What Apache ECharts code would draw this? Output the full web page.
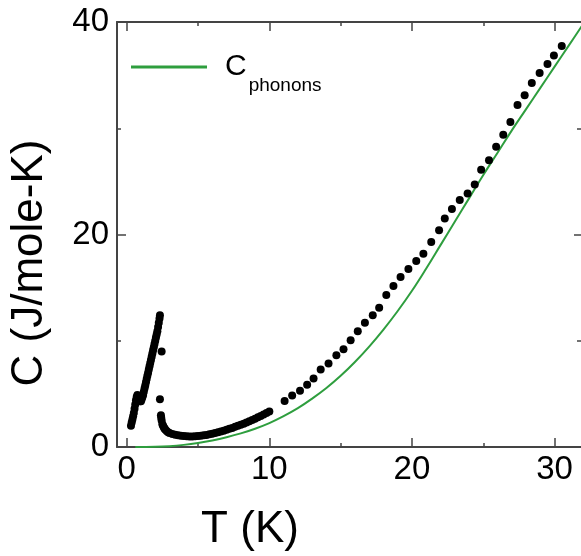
<!DOCTYPE html>
<html><head><meta charset="utf-8">
<script src="https://cdn.jsdelivr.net/npm/echarts@6/dist/echarts.min.js"></script>
<style>html,body{margin:0;padding:0;background:#fff}#c{width:581px;height:556px}</style>
</head><body><div id="c"></div>
<script>
// Measured heat capacity (black dots)
const measT = [
  0.30,0.35,0.40,0.45,0.50,0.55,0.60,0.65,0.70,0.75,0.80,0.85,0.90,0.95,1.00,1.05,1.10,1.15,1.20,1.25,
  1.30,1.35,1.40,1.45,1.50,1.55,1.60,1.65,1.70,1.75,1.80,1.85,1.90,1.95,2.00,2.05,2.10,2.15,2.20,2.25,
  2.30,2.33,2.45,2.33,
  2.40,2.42,2.45,2.50,2.55,2.60,2.65,2.70,2.80,2.90,3.00,3.20,3.40,3.60,3.80,4.00,4.20,4.40,4.60,4.80,
  5.00,5.20,5.40,5.60,5.80,6.00,6.20,6.40,6.60,6.80,7.00,7.20,7.40,7.60,7.80,8.00,8.20,8.40,8.60,8.80,
  9.00,9.20,9.40,9.60,9.80,10.00,
  11.07,11.60,12.15,12.65,13.10,13.60,14.15,14.70,15.20,15.70,16.20,16.70,17.25,17.70,18.20,18.70,19.20,19.75,
  20.30,20.80,21.35,21.90,22.30,22.80,23.35,23.90,24.40,24.85,25.40,25.90,26.40,26.90,27.40,27.90,28.40,28.95,
  29.50,29.95,30.50
];
const measC = [
  2.0,2.3,2.6,2.9,3.2,3.6,4.0,4.4,4.7,4.9,4.8,4.6,4.4,4.3,4.3,4.5,4.7,4.9,5.2,5.5,
  5.8,6.1,6.4,6.7,7.0,7.3,7.6,7.9,8.2,8.5,8.8,9.1,9.4,9.7,10.0,10.3,10.6,10.9,11.3,11.7,
  12.1,12.4,9.0,4.5,
  3.0,2.75,2.5,2.15,2.0,1.85,1.75,1.65,1.5,1.4,1.32,1.22,1.15,1.10,1.06,1.03,1.01,1.0,1.0,1.01,
  1.03,1.06,1.10,1.14,1.19,1.25,1.31,1.38,1.45,1.53,1.62,1.71,1.80,1.90,2.0,2.10,2.20,2.31,2.42,2.54,
  2.66,2.79,2.92,3.06,3.20,3.35,
  4.34,4.85,5.30,5.85,6.45,7.30,7.86,8.64,9.20,10.05,10.9,11.7,12.4,13.1,14.3,15.15,16.0,16.75,
  17.5,18.2,19.3,20.4,21.5,22.4,23.25,23.85,24.7,26.1,27.0,28.25,29.4,30.6,32.2,33.1,34.25,35.2,
  36.05,36.85,37.75
];
// Phonon contribution (green line)
const phononT = [0.6,1,2,3,4,5,6,7,8,9,10,11,12,13,14,15,16,17,18,19,20,21,22,23,24,25,26,27,28,29,30,31,32];
const phononC = [0,0.005,0.02,0.08,0.2,0.38,0.62,0.92,1.28,1.72,2.25,2.9,3.65,4.55,5.55,6.7,8.0,9.45,11.05,12.8,14.7,16.8,19.0,21.2,23.4,25.6,27.7,29.8,31.8,33.8,35.8,37.8,39.8];

const xTicks = [0,10,20,30];
const xMinorTicks = [5,15,25];
const yTicks = [0,20,40];
const yMinorTicks = [10,30];
const xRange = [-0.68, 31.85];
const yRange = [0, 40];

const FONT = '"Liberation Sans", Arial, sans-serif';
const axisColor = '#444';

function xAxisDef(pos, vals, len, showLine, showLabel) {
  return {
    type:'value', position:pos, min:xRange[0], max:xRange[1], gridIndex:0,
    axisLine:{show:showLine, onZero:false, lineStyle:{color:axisColor, width:2}},
    axisTick:{show:true, inside:true, length:len, customValues:vals, lineStyle:{color:axisColor, width:1.5}},
    axisLabel:{show:showLabel, customValues:vals, fontSize:33, fontFamily:FONT, color:'#000', margin:6},
    splitLine:{show:false}
  };
}
function yAxisDef(pos, vals, len, showLine, showLabel) {
  return {
    type:'value', position:pos, min:yRange[0], max:yRange[1], gridIndex:0,
    axisLine:{show:showLine, onZero:false, lineStyle:{color:axisColor, width:2}},
    axisTick:{show:true, inside:true, length:len, customValues:vals, lineStyle:{color:axisColor, width:1.5}},
    axisLabel:{show:showLabel, customValues:vals, fontSize:33, fontFamily:FONT, color:'#000', margin:8},
    splitLine:{show:false}
  };
}

const chart = echarts.init(document.getElementById('c'), null, {renderer:'canvas'});
chart.setOption({
  animation:false,
  backgroundColor:'#fff',
  grid:{left:117, top:22, width:465, height:425, containLabel:false},
  xAxis:[
    xAxisDef('bottom', xTicks, 9, true, true),
    xAxisDef('bottom', xMinorTicks, 4, false, false),
    xAxisDef('top', xTicks, 9, true, false),
    xAxisDef('top', xMinorTicks, 4, false, false)
  ],
  yAxis:[
    yAxisDef('left', yTicks, 9, true, true),
    yAxisDef('left', yMinorTicks, 4, false, false),
    yAxisDef('right', yTicks, 7, false, false),
    yAxisDef('right', yMinorTicks, 4, false, false)
  ],
  legend:{
    left:126, top:29, itemWidth:76, itemHeight:3, icon:'rect', itemGap:0,
    data:['C_phonons'],
    formatter:function(){ return '{c|C}{s|phonons}'; },
    textStyle:{
      rich:{
        c:{fontSize:30, fontFamily:FONT, color:'#000', lineHeight:30, padding:[18,0,18,13]},
        s:{fontSize:19, fontFamily:FONT, color:'#000', lineHeight:19, padding:[42,0,5,2]}
      }
    }
  },
  graphic:[
    {type:'text', x:250, y:530, style:{text:'T (K)', fontSize:44, fontFamily:FONT, fill:'#000', align:'center', verticalAlign:'middle'}},
    {type:'text', x:30, y:263, rotation:Math.PI/2, style:{text:'C (J/mole-K)', fontSize:44, fontFamily:FONT, fill:'#000', align:'center', verticalAlign:'middle'}}
  ],
  series:[
    {
      name:'C_phonons', type:'line', xAxisIndex:0, yAxisIndex:0,
      data:phononT.map((t,i)=>[t, phononC[i]]),
      showSymbol:false, smooth:0.4, lineStyle:{color:'#2e9e3e', width:2}, itemStyle:{color:'#2e9e3e'}, z:3
    },
    {
      name:'data', type:'scatter', xAxisIndex:0, yAxisIndex:0,
      data:measT.map((t,i)=>[t, measC[i]]),
      symbol:'circle', symbolSize:8, itemStyle:{color:'#000', opacity:1}, z:4
    }
  ]
});
</script>
</body></html>
